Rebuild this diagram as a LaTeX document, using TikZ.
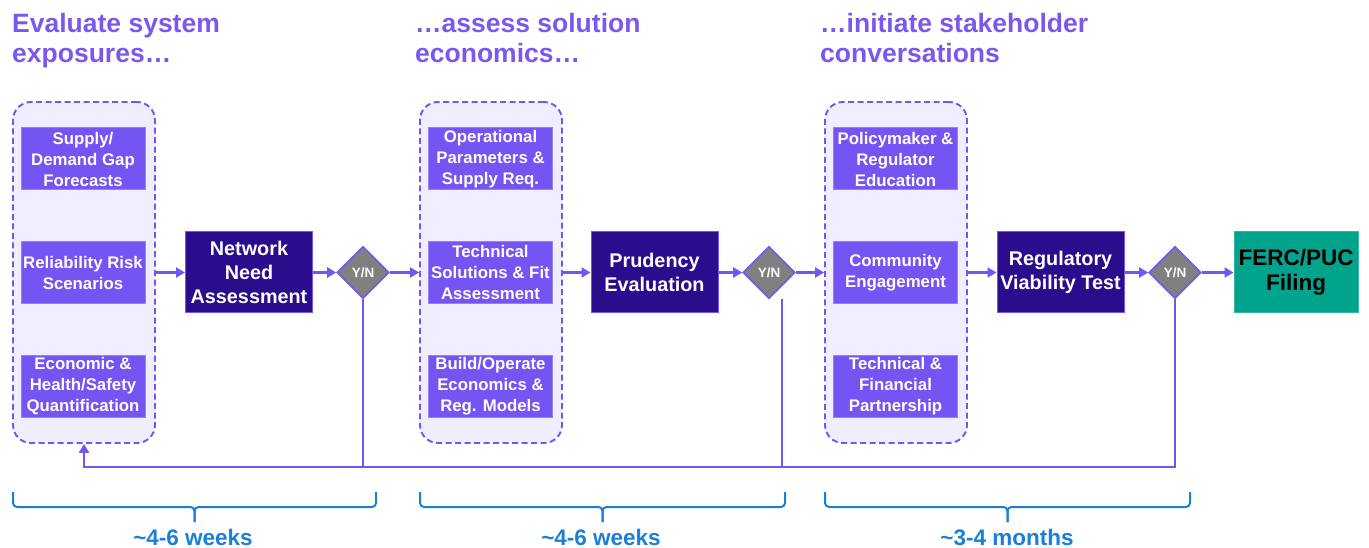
\documentclass[tikz,border=0pt]{standalone}
\usepackage{fontspec}
\setmainfont{Liberation Sans}
\usetikzlibrary{shapes.geometric,arrows.meta}
\definecolor{stepviolet}{RGB}{116,84,242}
\definecolor{deepindigo}{RGB}{42,12,140}
\definecolor{groupfill}{RGB}{240,238,252}
\definecolor{titleviolet}{RGB}{122,88,240}
\definecolor{filingteal}{RGB}{0,163,140}
\definecolor{spanblue}{RGB}{26,127,214}
\definecolor{gategray}{RGB}{128,128,128}

\begin{document}
\begin{tikzpicture}[x=1pt, y=-1pt,
    group/.style={draw=stepviolet, dash pattern=on 6pt off 3.5pt, line width=1.9pt, rounded corners=18pt, fill=groupfill, minimum width=142pt, minimum height=341pt},
    input/.style={fill=stepviolet, draw=stepviolet!75!white, line width=1pt, minimum width=124pt, minimum height=62pt, inner sep=0pt, align=center, text=white, font=\fontsize{16.8}{21}\selectfont\bfseries},
    stage/.style={fill=deepindigo, draw=stepviolet, line width=1pt, minimum width=127pt, minimum height=81pt, inner sep=0pt, align=center, text=white, font=\fontsize{19.8}{24}\selectfont\bfseries},
    gate/.style={diamond, aspect=1, fill=gategray, draw=stepviolet, line width=1.6pt, minimum size=52pt, inner sep=0pt, text=white, font=\fontsize{13.5}{15}\selectfont\bfseries},
    flow/.style={draw=stepviolet, line width=2.3pt, -{Triangle[length=9pt, width=10pt]}},
    link/.style={draw=stepviolet, line width=2.3pt},
    phase/.style={anchor=north west, inner sep=0pt, align=left, text=titleviolet, font=\fontsize{26.5}{30}\selectfont\bfseries},
    span/.style={draw=spanblue, line width=2pt, rounded corners=4pt},
    duration/.style={text=spanblue, font=\fontsize{22.5}{25}\selectfont\bfseries}
]

\useasboundingbox (0,0) rectangle (1369,548);

% Phase headings
\node[phase] (title1) at (12,13) {Evaluate system\\exposures…};
\node[phase] (title2) at (415,13) {…assess solution\\economics…};
\node[phase] (title3) at (820,13) {…initiate stakeholder\\conversations};

% Phase 1: exposures
\node[group] (g1) at (84,272.5) {};
\node[input] (supply) at (83,159) {Supply/\\Demand Gap\\Forecasts};
\node[input] (risk) at (83,272.5) {Reliability Risk\\Scenarios};
\node[input] (econ) at (83,386) {Economic \&\\Health/Safety\\Quantification};
\node[stage] (need) at (249,272.5) {Network\\Need\\Assessment};
\node[gate] (gate1) at (363,272.5) {Y/N};

% Phase 2: economics
\node[group] (g2) at (491,272.5) {};
\node[input] (ops) at (490.5,159) {Operational\\Parameters \&\\Supply Req.};
\node[input] (tech) at (490.5,272.5) {Technical\\Solutions \& Fit\\Assessment};
\node[input] (build) at (490.5,386) {Build/Operate\\Economics \&\\Reg. Models};
\node[stage] (prud) at (654.5,272.5) {Prudency\\Evaluation};
\node[gate] (gate2) at (769,272.5) {Y/N};

% Phase 3: stakeholders
\node[group] (g3) at (896,272.5) {};
\node[input] (policy) at (895.5,159) {Policymaker \&\\Regulator\\Education};
\node[input] (community) at (895.5,272.5) {Community\\Engagement};
\node[input] (partner) at (895.5,386) {Technical \&\\Financial\\Partnership};
\node[stage] (viab) at (1060.5,272.5) {Regulatory\\Viability Test};
\node[gate] (gate3) at (1175,272.5) {Y/N};

% Final filing
\node[stage, fill=filingteal, draw=filingteal!80!white, text=black, minimum width=124pt, font=\fontsize{22.5}{25}\selectfont\bfseries] (ferc) at (1296,272.5) {FERC/PUC\\Filing};

% Main flow
\draw[flow] (g1.east) -- (need.west);
\draw[flow] (need.east) -- (gate1.west);
\draw[flow] (gate1.east) -- (g2.west);
\draw[flow] (g2.east) -- (prud.west);
\draw[flow] (prud.east) -- (gate2.west);
\draw[flow] (gate2.east) -- (g3.west);
\draw[flow] (g3.east) -- (viab.west);
\draw[flow] (viab.east) -- (gate3.west);
\draw[flow] (gate3.east) -- (ferc.west);

% Feedback loop back to the start
\coordinate (loopL) at (84,467);
\coordinate (gate2tail) at (782,299);
\draw[flow] (gate3.south) |- (loopL) -- (g1.south);
\draw[link] (gate1.south) -- (gate1.south |- loopL);
\draw[link] (gate2tail) -- (gate2tail |- loopL);

% Durations
\draw[span] (13,492) |- (194.5,507) -- (194.5,522);
\draw[span] (376,492) |- (194.5,507) -- (194.5,522);
\node[duration] (wk1) at (193,537) {\textasciitilde4-6 weeks};

\draw[span] (420,492) |- (602.5,507) -- (602.5,522);
\draw[span] (785,492) |- (602.5,507) -- (602.5,522);
\node[duration] (wk2) at (601,537) {\textasciitilde4-6 weeks};

\draw[span] (825,492) |- (1007.5,507) -- (1007.5,522);
\draw[span] (1190,492) |- (1007.5,507) -- (1007.5,522);
\node[duration] (mo3) at (1007,537) {\textasciitilde3-4 months};

\end{tikzpicture}
\end{document}
